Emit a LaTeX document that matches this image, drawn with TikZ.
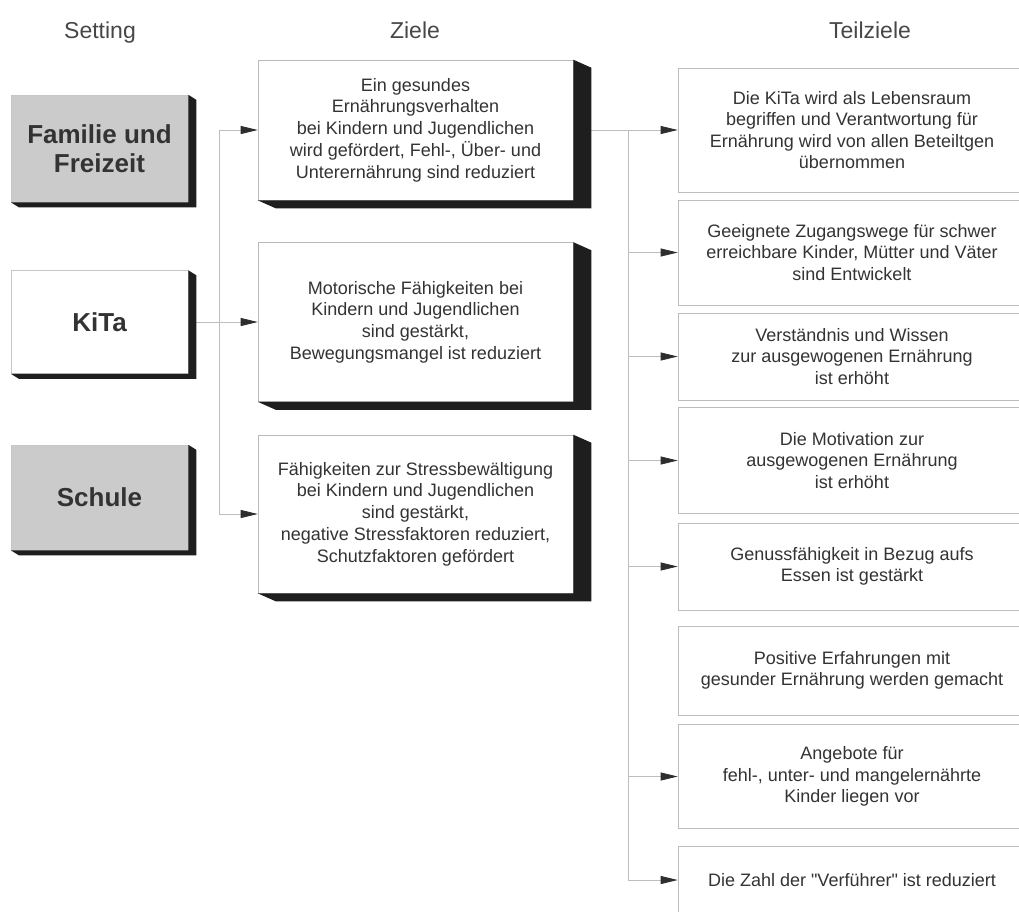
\documentclass[tikz,border=0pt]{standalone}
\usepackage{fontspec}
\setmainfont{Liberation Sans}[Ligatures=TeXOff]
\usetikzlibrary{arrows.meta,backgrounds}
\definecolor{txt}{HTML}{333333}
\definecolor{shadowc}{HTML}{1E1E1E}
\definecolor{lgray}{HTML}{CBCBCB}
\definecolor{linec}{HTML}{BDBDBD}
\definecolor{tipc}{HTML}{2E2E2E}
\newcommand{\extrude}[3]{%
  \fill[shadowc] (#1.north east) -- ([shift={(#2,#3)}]#1.north east)
    -- ([shift={(#2,#3)}]#1.south east) -- ([shift={(#2,#3)}]#1.south west)
    -- (#1.south west) -- (#1.south east) -- cycle;}
\begin{document}
\begin{tikzpicture}[x=1pt,y=-1pt,
  header/.style={text=txt!90, font=\fontsize{23}{27}\selectfont, inner sep=0, anchor=base},
  setbox/.style={draw=gray!45, line width=0.5pt, minimum width=177pt, align=center,
    text=txt, font=\fontsize{26}{29}\selectfont\bfseries, inner sep=0},
  zielbox/.style={draw=gray!55, line width=0.6pt, fill=white, minimum width=315pt, align=center,
    text=txt, font=\fontsize{18}{21.7}\selectfont, inner sep=0},
  teilbox/.style={draw=linec, line width=0.7pt, fill=white, minimum width=348pt, align=center,
    text=txt, font=\fontsize{18}{21.3}\selectfont, inner sep=0},
  conn/.style={draw=linec, line width=0.8pt},
  arr/.style={conn, -{Triangle[length=17pt,width=8pt,color=tipc]}}
]
\useasboundingbox (0,0) rectangle (1019,911);

% headers
\node[header] (h1) at (100,38) {Setting};
\node[header] (h2) at (415,38) {Ziele};
\node[header] (h3) at (870,38) {Teilziele};

% setting boxes
\node[setbox, fill=lgray, minimum height=107pt] (fam) at (99.5,148.5) {Familie und\\Freizeit};
\node[setbox, fill=white, minimum height=103pt] (kita) at (99.5,322) {KiTa};
\node[setbox, fill=lgray, minimum height=105pt] (schule) at (99.5,497.5) {Schule};
\extrude{fam}{8}{5}
\extrude{kita}{8}{5}
\extrude{schule}{8}{5}

% ziele boxes
\node[zielbox, minimum height=140pt] (z1) at (415.5,130) {Ein gesundes\\Ernährungsverhalten\\bei Kindern und Jugendlichen\\wird gefördert, Fehl-, Über- und\\Unterernährung sind reduziert};
\node[zielbox, minimum height=159pt] (z2) at (415.5,322) {Motorische Fähigkeiten bei\\Kindern und Jugendlichen\\sind gestärkt,\\Bewegungsmangel ist reduziert};
\node[zielbox, minimum height=158pt] (z3) at (415.5,514) {Fähigkeiten zur Stressbewältigung\\bei Kindern und Jugendlichen\\sind gestärkt,\\negative Stressfaktoren reduziert,\\Schutzfaktoren gefördert};
\extrude{z1}{18}{8}
\extrude{z2}{18}{8}
\extrude{z3}{18}{8}

% teilziele boxes
\node[teilbox, minimum height=124pt] (t1) at (852,130) {Die KiTa wird als Lebensraum\\begriffen und Verantwortung für\\Ernährung wird von allen Beteiltgen\\übernommen};
\node[teilbox, minimum height=105pt] (t2) at (852,252.5) {Geeignete Zugangswege für schwer\\erreichbare Kinder, Mütter und Väter\\sind Entwickelt};
\node[teilbox, minimum height=87pt] (t3) at (852,356.5) {Verständnis und Wissen\\zur ausgewogenen Ernährung\\ist erhöht};
\node[teilbox, minimum height=106pt] (t4) at (852,460.5) {Die Motivation zur\\ausgewogenen Ernährung\\ist erhöht};
\node[teilbox, minimum height=87pt] (t5) at (852,566.5) {Genussfähigkeit in Bezug aufs\\Essen ist gestärkt};
\node[teilbox, minimum height=89pt] (t6) at (852,670.5) {Positive Erfahrungen mit\\gesunder Ernährung werden gemacht};
\node[teilbox, minimum height=104pt] (t7) at (852,776.5) {Angebote für\\fehl-, unter- und mangelernährte\\Kinder liegen vor};
\node[teilbox, minimum height=68pt] (t8) at (852,880) {Die Zahl der "Verführer" ist reduziert};

% connectors
\coordinate (lb) at (219,0);
\coordinate (rb) at (628,0);
\begin{scope}[on background layer]
\fill[white] (0,0) rectangle (1019,911);
\draw[conn] (kita.east) -- (kita.east -| lb);
\draw[conn] (z1.west -| lb) -- (z3.west -| lb);
\draw[arr] (z1.west -| lb) -- (z1.west);
\draw[arr] (z2.west -| lb) -- (z2.west);
\draw[arr] (z3.west -| lb) -- (z3.west);
\draw[conn] (z1.east) -- (t1.west -| rb);
\draw[conn] (t1.west -| rb) -- (t8.west -| rb);
\foreach \t in {t1,t2,t3,t4,t5,t7,t8}{
  \draw[arr] (\t.west -| rb) -- (\t.west);
}
\end{scope}
\end{tikzpicture}
\end{document}
